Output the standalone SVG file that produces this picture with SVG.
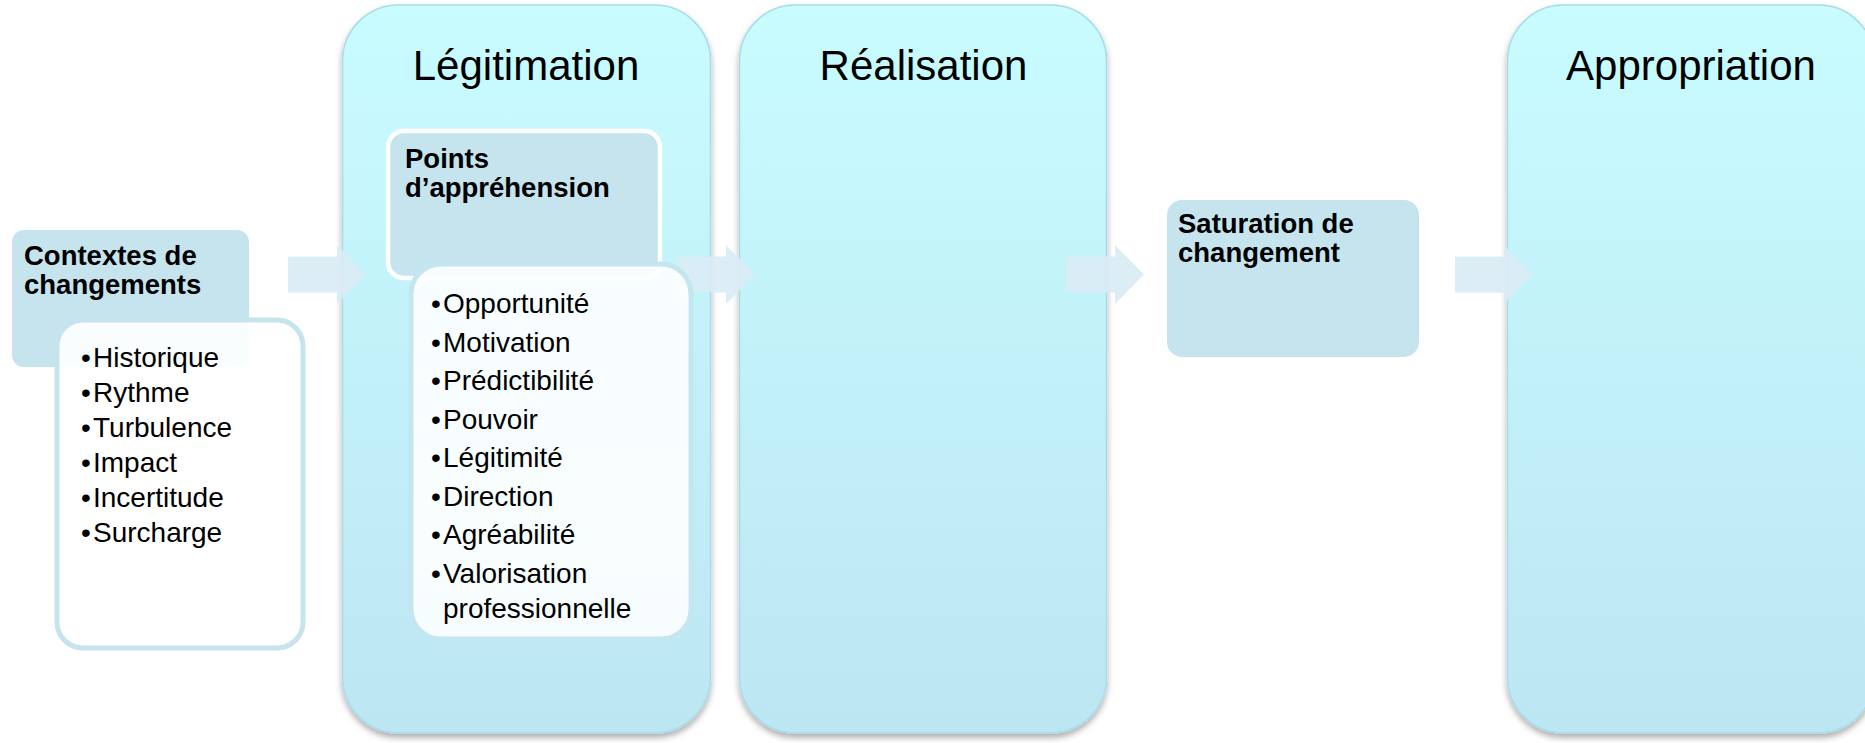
<svg xmlns="http://www.w3.org/2000/svg" width="1865" height="743" viewBox="0 0 1865 743">
  <defs>
    <linearGradient id="colGrad" x1="0" y1="0" x2="0" y2="1">
      <stop offset="0" stop-color="#c8fcff"/>
      <stop offset="1" stop-color="#bde6f3"/>
    </linearGradient>
    <filter id="shadow" x="-10%" y="-5%" width="120%" height="112%">
      <feDropShadow dx="0" dy="4" stdDeviation="3" flood-color="#000" flood-opacity="0.32"/>
    </filter>
    <path id="arrowShape" d="M0,-18 L49,-18 L49,-29.5 L78,0 L49,29.5 L49,18 L0,18 Z"/>
  </defs>
  <style>
    .col { fill: url(#colGrad); stroke: #a9dbe8; stroke-width: 1.5; filter: url(#shadow); }
    .title { font-family: "Liberation Sans", Arial, sans-serif; font-size: 42px; fill: #000; text-anchor: middle; }
    .label { fill: #c5e4ee; }
    .labelText { font-family: "Liberation Sans", Arial, sans-serif; font-size: 27.5px; font-weight: bold; fill: #000; }
    .list { font-family: "Liberation Sans", Arial, sans-serif; font-size: 28px; fill: #000; }
    .arrow { fill: #d9ecf4; opacity: 0.92; }
  </style>
  <rect width="1865" height="743" fill="#ffffff"/>

  <g id="col-legitimation">
    <rect class="col" x="342.5" y="5" width="368" height="728" rx="56" ry="56"/>
    <text class="title" x="526" y="80">Légitimation</text>
  </g>
  <g id="col-realisation">
    <rect class="col" x="739.5" y="5" width="367" height="728" rx="56" ry="56"/>
    <text class="title" x="923.5" y="80">Réalisation</text>
  </g>
  <g id="col-appropriation">
    <rect class="col" x="1507.5" y="5" width="367" height="728" rx="56" ry="56"/>
    <text class="title" x="1691" y="80">Appropriation</text>
  </g>

  <g id="connectors">
    <use href="#arrowShape" class="arrow" x="288" y="274.5"/>
    <use href="#arrowShape" class="arrow" x="677" y="274.5"/>
    <use href="#arrowShape" class="arrow" x="1066" y="274.5"/>
    <use href="#arrowShape" class="arrow" x="1455" y="274.5"/>
  </g>

  <g id="contextes">
    <rect class="label" x="12" y="230" width="237" height="137" rx="12" ry="12"/>
    <text class="labelText" x="24" y="265">Contextes de</text>
    <text class="labelText" x="24" y="294">changements</text>
  </g>
  <g id="contextes-list">
    <rect x="57" y="320" width="246" height="328" rx="26" ry="26" fill="#ffffff" fill-opacity="0.9" stroke="#c6e3ee" stroke-width="5"/>
    <text class="list" x="81" y="367">•<tspan x="93">Historique</tspan></text>
    <text class="list" x="81" y="402">•<tspan x="93">Rythme</tspan></text>
    <text class="list" x="81" y="437">•<tspan x="93">Turbulence</tspan></text>
    <text class="list" x="81" y="472">•<tspan x="93">Impact</tspan></text>
    <text class="list" x="81" y="507">•<tspan x="93">Incertitude</tspan></text>
    <text class="list" x="81" y="542">•<tspan x="93">Surcharge</tspan></text>
  </g>

  <g id="points">
    <rect class="label" x="388" y="131" width="272" height="147" rx="16" ry="16" stroke="#ffffff" stroke-width="4.5"/>
    <text class="labelText" x="405" y="168">Points</text>
    <text class="labelText" x="405" y="197">d’appréhension</text>
  </g>
  <g id="points-list">
    <rect x="411" y="264" width="280" height="375" rx="30" ry="30" fill="#ffffff" fill-opacity="0.88" stroke="#c4e6f0" stroke-width="5"/>
    <text class="list" x="431" y="313">•<tspan x="443">Opportunité</tspan></text>
    <text class="list" x="431" y="351.5">•<tspan x="443">Motivation</tspan></text>
    <text class="list" x="431" y="390">•<tspan x="443">Prédictibilité</tspan></text>
    <text class="list" x="431" y="428.5">•<tspan x="443">Pouvoir</tspan></text>
    <text class="list" x="431" y="467">•<tspan x="443">Légitimité</tspan></text>
    <text class="list" x="431" y="505.5">•<tspan x="443">Direction</tspan></text>
    <text class="list" x="431" y="544">•<tspan x="443">Agréabilité</tspan></text>
    <text class="list" x="431" y="582.5">•<tspan x="443">Valorisation</tspan></text>
    <text class="list" x="443" y="617.5">professionnelle</text>
  </g>

  <g id="saturation">
    <rect class="label" x="1167" y="200" width="252" height="157" rx="15" ry="15"/>
    <text class="labelText" x="1178" y="233">Saturation de</text>
    <text class="labelText" x="1178" y="262">changement</text>
  </g>
</svg>
